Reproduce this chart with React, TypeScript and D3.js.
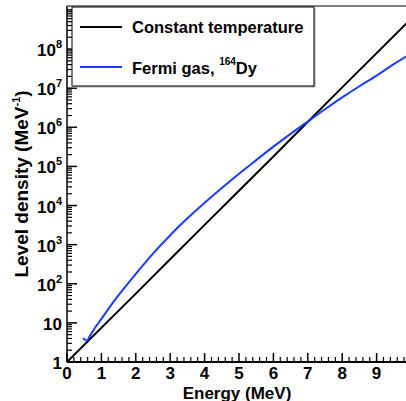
import React from 'react'
import * as d3 from 'd3'

// Constant temperature model (straight line in log space)
const ctEnergy = [0, 2, 4, 6, 8, 10]
const ctDensity = [1, 56, 3.2e3, 1.8e5, 1.05e7, 5.9e8]

// Fermi gas, 164Dy
const fgEnergy = [0.47, 0.52, 0.58, 0.65, 0.8, 1.0, 1.25, 1.5, 2.0, 2.5, 3.0, 3.5, 4.0, 4.5, 5.0, 5.5, 6.0, 6.5, 7.0, 7.5, 8.0, 8.5, 9.0, 9.5, 10.0]
const fgDensity = [4.1, 3.7, 3.5, 4.4, 7.2, 12.6, 26, 51, 178, 589, 1.74e3, 4.7e3, 1.17e4, 2.8e4, 6.5e4, 1.45e5, 3.2e5, 6.8e5, 1.41e6, 2.9e6, 5.8e6, 1.12e7, 2.1e7, 4.1e7, 7.6e7]

const xTickLabels = ['0', '1', '2', '3', '4', '5', '6', '7', '8', '9']
const yTickLabels = [
    { value: 1, base: '1', exp: '' },
    { value: 10, base: '10', exp: '' },
    { value: 1e2, base: '10', exp: '2' },
    { value: 1e3, base: '10', exp: '3' },
    { value: 1e4, base: '10', exp: '4' },
    { value: 1e5, base: '10', exp: '5' },
    { value: 1e6, base: '10', exp: '6' },
    { value: 1e7, base: '10', exp: '7' },
    { value: 1e8, base: '10', exp: '8' },
]
const legendLabels = ['Constant temperature', 'Fermi gas, ']

const W = 406
const H = 401
const left = 67
const top = 6
const bottom = 362
const font = '"Liberation Sans", Arial, Helvetica, sans-serif'
const blue = '#1a3cff'

const App = () => {
    const x = d3.scaleLinear().domain([0, 10]).range([left, left + 344])
    const y = d3.scaleLog().domain([1, 1.26e9]).range([bottom, top])

    const line = d3
        .line<[number, number]>()
        .x(d => x(d[0]))
        .y(d => y(d[1]))
        .curve(d3.curveMonotoneX)

    const ct = ctEnergy.map((e, i) => [e, ctDensity[i]] as [number, number])
    const fg = fgEnergy.map((e, i) => [e, fgDensity[i]] as [number, number])

    const xMinor = d3.range(0, 50).map(i => i * 0.2).filter(v => Math.abs(v - Math.round(v)) > 1e-6)
    const yMajor = d3.range(0, 10).map(k => Math.pow(10, k)).filter(v => v <= 1.26e9)
    const yMinor: number[] = []
    yMajor.forEach(m => {
        for (let j = 2; j <= 9; j++) if (m * j <= 1.26e9) yMinor.push(m * j)
    })

    return (
        <svg
            width={W}
            height={H}
            style={{ position: 'absolute', left: 0, top: 0, background: '#fff' }}
            fontFamily={font}
            fontWeight='bold'
        >
            <defs>
                <clipPath id='plot'>
                    <rect x={left} y={top} width={W - left} height={bottom - top} />
                </clipPath>
            </defs>

            {/* curves */}
            <g clipPath='url(#plot)'>
                <path d={line(ct) || ''} fill='none' stroke='#000' strokeWidth={2} />
                <path d={line(fg) || ''} fill='none' stroke={blue} strokeWidth={2} />
            </g>

            {/* frame */}
            <line x1={left} x2={W} y1={top} y2={top} stroke='#000' strokeWidth={1} />
            <line x1={left} x2={left} y1={top} y2={bottom} stroke='#000' strokeWidth={1.5} />
            <line x1={left} x2={W} y1={bottom} y2={bottom} stroke='#000' strokeWidth={2} />

            {/* x ticks */}
            {xTickLabels.map((t, i) => (
                <g key={t}>
                    <line x1={x(i)} x2={x(i)} y1={bottom} y2={bottom - 9} stroke='#000' strokeWidth={1.5} />
                    <text x={x(i)} y={379} textAnchor='middle' fontSize={17}>{t}</text>
                </g>
            ))}
            {xMinor.map(v => (
                <line key={v} x1={x(v)} x2={x(v)} y1={bottom} y2={bottom - 5} stroke='#000' strokeWidth={1.2} />
            ))}
            <text x={237} y={398.5} textAnchor='middle' fontSize={17}>Energy (MeV)</text>

            {/* y ticks */}
            {yMajor.map(v => (
                <line key={v} x1={left} x2={left + 10} y1={y(v)} y2={y(v)} stroke='#000' strokeWidth={1.5} />
            ))}
            {yMinor.map(v => (
                <line key={v} x1={left} x2={left + 5} y1={y(v)} y2={y(v)} stroke='#000' strokeWidth={1.2} />
            ))}
            {yTickLabels.map(t => (
                <text key={t.value} x={62} y={y(t.value) + 7} textAnchor='end' fontSize={17}>
                    {t.base}
                    {t.exp && <tspan fontSize={11} dy={-8}>{t.exp}</tspan>}
                </text>
            ))}
            <text
                transform={`translate(28, 184) rotate(-90)`}
                textAnchor='middle'
                fontSize={19}
            >
                Level density (MeV<tspan fontSize={11} dy={-8}>-1</tspan><tspan dy={8}>)</tspan>
            </text>

            {/* legend */}
            <rect x={73.5} y={8.5} width={242} height={79} fill='#b0b0b0' />
            <rect x={72} y={7} width={242} height={79} fill='#fff' stroke='#000' strokeWidth={1} />
            <line x1={80} x2={122} y1={27} y2={27} stroke='#000' strokeWidth={2} />
            <text x={132} y={33} fontSize={16.5}>{legendLabels[0]}</text>
            <line x1={80} x2={122} y1={67} y2={67} stroke={blue} strokeWidth={2} />
            <text x={132} y={74} fontSize={16.5}>
                {legendLabels[1]}
                <tspan fontSize={10} dy={-9}>164</tspan>
                <tspan dy={9}>Dy</tspan>
            </text>
        </svg>
    )
}

export default App
